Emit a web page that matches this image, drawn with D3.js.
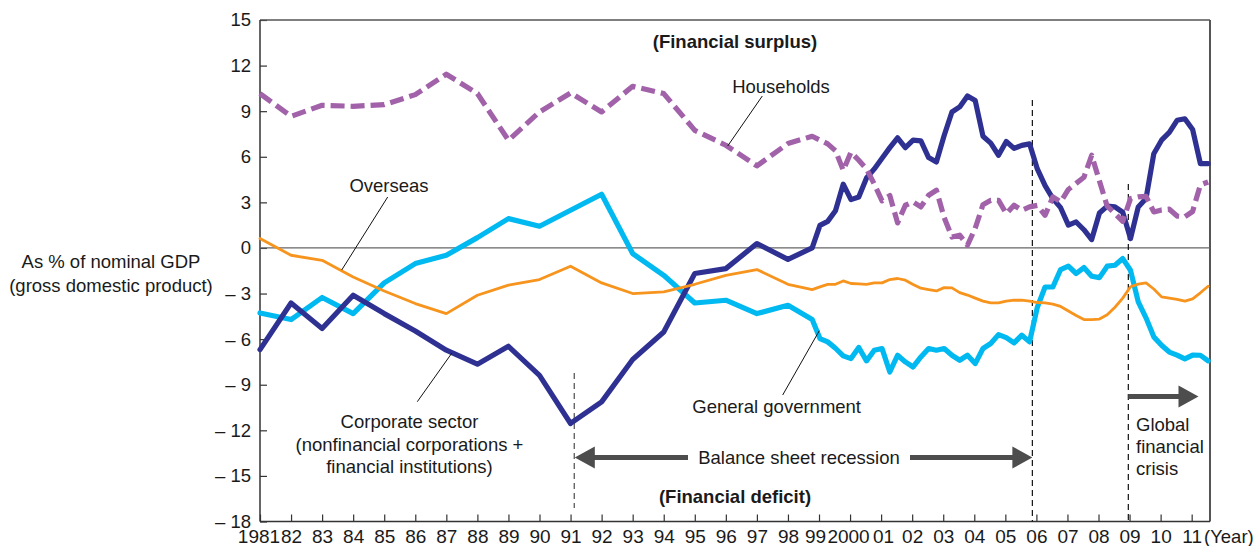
<!DOCTYPE html>
<html><head><meta charset="utf-8">
<script src="https://cdn.jsdelivr.net/npm/d3@7/dist/d3.min.js"></script>
<style>
body{margin:0;background:#fff}
svg{display:block}
text{font-family:"Liberation Sans",Arial,Helvetica,sans-serif;fill:#1a1a1a}
</style>
</head><body>
<svg id="chart" width="1255" height="546"></svg>
<script>
// ---------- DATA ----------
const annualYears = [1981,1982,1983,1984,1985,1986,1987,1988,1989,1990,1991,1992,1993,1994,1995,1996,1997,1998];
// quarterly observations (4-quarter averages), from 1998 Q4 to 2011 Q3
const quarterStart = 1998.78;
const quarterStep = 0.25;

const corporateAnnual = [-6.69,-3.62,-5.3,-3.11,-4.32,-5.46,-6.73,-7.65,-6.47,-8.38,-11.55,-10.13,-7.34,-5.53,-1.68,-1.36,0.29,-0.75];
const corporateQuarterly = [0.0,1.49,1.75,2.45,4.2,3.18,3.35,4.6,5.2,5.9,6.6,7.25,6.6,7.09,7.05,5.95,5.66,7.4,8.95,9.28,10.0,9.7,7.35,6.9,6.1,7.0,6.55,6.75,6.85,5.2,4.1,3.25,2.65,1.5,1.71,1.2,0.55,2.3,2.75,2.7,2.35,0.62,2.7,3.25,6.2,7.09,7.6,8.4,8.5,7.8,5.55,5.55];

const householdsAnnual = [10.16,8.66,9.39,9.32,9.43,10.09,11.43,10.16,7.09,8.95,10.2,8.95,10.64,10.16,7.74,6.76,5.4,6.87];
const householdsQuarterly = [7.35,7.1,6.85,6.4,5.11,6.3,5.77,5.2,4.2,3.1,3.45,1.65,2.81,3.03,2.7,3.47,3.8,2.0,0.72,0.84,0.18,1.3,2.85,3.14,3.14,2.26,2.81,2.48,2.7,2.8,2.15,3.36,3.03,3.85,4.25,4.65,6.1,4.4,2.75,2.26,1.75,3.25,3.36,3.4,2.37,2.5,2.55,2.1,2.05,2.4,4.15,4.34];

const governmentAnnual = [-4.28,-4.71,-3.26,-4.32,-2.3,-1.03,-0.48,0.68,1.93,1.43,2.48,3.53,-0.37,-1.8,-3.62,-3.44,-4.32,-3.77];
const governmentQuarterly = [-4.71,-5.96,-6.18,-6.6,-7.1,-7.28,-6.55,-7.43,-6.73,-6.62,-8.16,-7.06,-7.5,-7.83,-7.17,-6.62,-6.73,-6.62,-7.06,-7.39,-7.06,-7.61,-6.62,-6.29,-5.7,-5.9,-6.25,-5.74,-6.18,-3.9,-2.57,-2.57,-1.42,-1.2,-1.68,-1.29,-1.86,-1.95,-1.2,-1.14,-0.7,-1.47,-3.55,-4.6,-5.85,-6.4,-6.85,-7.05,-7.3,-7.05,-7.06,-7.43];

const overseasAnnual = [0.62,-0.48,-0.81,-1.91,-2.83,-3.66,-4.32,-3.11,-2.45,-2.08,-1.2,-2.3,-3.0,-2.89,-2.39,-1.8,-1.42,-2.39];
const overseasQuarterly = [-2.74,-2.56,-2.4,-2.39,-2.17,-2.34,-2.36,-2.39,-2.3,-2.3,-2.08,-2.01,-2.12,-2.4,-2.65,-2.74,-2.83,-2.61,-2.63,-2.94,-3.1,-3.3,-3.5,-3.62,-3.62,-3.5,-3.44,-3.44,-3.5,-3.59,-3.62,-3.7,-3.85,-4.15,-4.45,-4.71,-4.71,-4.68,-4.4,-3.9,-3.3,-2.55,-2.38,-2.3,-2.7,-3.22,-3.3,-3.38,-3.5,-3.35,-2.95,-2.52];

const yTicks = [15,12,9,6,3,0,-3,-6,-9,-12,-15,-18];
const xTicks = [1981,1982,1983,1984,1985,1986,1987,1988,1989,1990,1991,1992,1993,1994,1995,1996,1997,1998,1999,2000,2001,2002,2003,2004,2005,2006,2007,2008,2009,2010,2011];
const eventYears = [1991.12, 2005.87, 2008.96]; // recession start, end, global financial crisis

// ---------- LAYOUT ----------
const svg = d3.select("#chart");
const L = 260, R = 1210, T = 20, B = 521.5;
const x = d3.scaleLinear().domain([1981, 2011.59]).range([L, R]);
const y = d3.scaleLinear().domain([-18, 15]).range([B, T]);

function build(annual, quarterly){
  const pts = annual.map((v,i)=>({t: annualYears[i], v}));
  quarterly.forEach((v,i)=>pts.push({t: quarterStart + i*quarterStep, v}));
  return pts;
}
const line = d3.line().x(d=>x(d.t)).y(d=>y(d.v));

// axes
const yAxis = d3.axisLeft(y).tickValues(yTicks).tickSize(-7).tickPadding(9)
  .tickFormat(d => d < 0 ? "\u2013 " + Math.abs(d) : String(d));
const gy = svg.append("g").attr("transform",`translate(${L},0)`).call(yAxis);
gy.select(".domain").remove();
gy.selectAll(".tick line").attr("stroke","#333").attr("stroke-width",1.2);
gy.selectAll(".tick text").attr("font-size","18.5px").attr("fill","#1a1a1a");

const labelShift = {1981:-1.5, 1999:-4, 2000:-2, 2001:2};
const xAxis = d3.axisBottom(x).tickValues(xTicks).tickSize(-7).tickPadding(8)
  .tickFormat(d => (d===1981||d===2000) ? String(d) : String(d).slice(2));
const gx = svg.append("g").attr("transform",`translate(0,${B})`).call(xAxis);
gx.select(".domain").remove();
gx.selectAll(".tick line").attr("stroke","#333").attr("stroke-width",1.2);
gx.selectAll(".tick text").attr("font-size","19px").attr("fill","#1a1a1a")
  .attr("dx", d => labelShift[d] || 0);

svg.append("text").attr("x",1204).attr("y",542.5).attr("font-size","18.5px").text("(Year)");

// frame
svg.append("line").attr("x1",L).attr("x2",R).attr("y1",T).attr("y2",T).attr("stroke","#555").attr("stroke-width",1.5);
svg.append("line").attr("x1",R).attr("x2",R).attr("y1",T).attr("y2",B).attr("stroke","#555").attr("stroke-width",2);
svg.append("line").attr("x1",L).attr("x2",L).attr("y1",T).attr("y2",B).attr("stroke","#333").attr("stroke-width",1.5);
svg.append("line").attr("x1",L).attr("x2",R).attr("y1",B).attr("y2",B).attr("stroke","#333").attr("stroke-width",1.5);
// zero line
svg.append("line").attr("x1",L).attr("x2",R).attr("y1",y(0)).attr("y2",y(0)).attr("stroke","#666").attr("stroke-width",1.3);

// event dashed lines
svg.append("line").attr("x1",x(eventYears[0])).attr("x2",x(eventYears[0])).attr("y1",373).attr("y2",508)
  .attr("stroke","#666").attr("stroke-width",1.4).attr("stroke-dasharray","6,4");
svg.append("line").attr("x1",x(eventYears[1])).attr("x2",x(eventYears[1])).attr("y1",100).attr("y2",B)
  .attr("stroke","#111").attr("stroke-width",1.2).attr("stroke-dasharray","6,4");
svg.append("line").attr("x1",x(eventYears[2])).attr("x2",x(eventYears[2])).attr("y1",184).attr("y2",B)
  .attr("stroke","#111").attr("stroke-width",1.2).attr("stroke-dasharray","6,4");

// series
const series = [
  {name:"government", data: build(governmentAnnual, governmentQuarterly), color:"#00b9f1", w:5.2, dash:null},
  {name:"corporate", data: build(corporateAnnual, corporateQuarterly), color:"#2e3192", w:5.2, dash:null},
  {name:"households", data: build(householdsAnnual, householdsQuarterly), color:"#a262a9", w:5.2, dash:"14,6"},
  {name:"overseas", data: build(overseasAnnual, overseasQuarterly), color:"#f7941d", w:2.8, dash:null}
];
series.forEach(s=>{
  svg.append("path").datum(s.data).attr("d",line).attr("fill","none")
    .attr("stroke",s.color).attr("stroke-width",s.w)
    .attr("stroke-linejoin","round").attr("stroke-linecap", s.dash ? "butt" : "round")
    .attr("stroke-dasharray", s.dash);
});

// arrows
const arrowColor = "#4d4d4d";
function arrowHead(tipX, yy, dir){ // dir: -1 left, +1 right
  const len = 20, half = 11;
  svg.append("path")
    .attr("d",`M${tipX},${yy} L${tipX - dir*len},${yy-half} L${tipX - dir*len},${yy+half} Z`)
    .attr("fill",arrowColor);
}
const bsY = 457.5;
const bsL = x(eventYears[0]) + 0.5, bsR = x(eventYears[1]);
svg.append("line").attr("x1",bsL+15).attr("x2",688).attr("y1",bsY).attr("y2",bsY).attr("stroke",arrowColor).attr("stroke-width",5);
svg.append("line").attr("x1",910).attr("x2",bsR-15).attr("y1",bsY).attr("y2",bsY).attr("stroke",arrowColor).attr("stroke-width",5);
arrowHead(bsL, bsY, -1);
arrowHead(bsR, bsY, 1);
svg.append("text").attr("x",799).attr("y",bsY).attr("dy","0.35em").attr("text-anchor","middle").attr("font-size","18.5px").text("Balance sheet recession");

const gfY = 396.5;
svg.append("line").attr("x1",x(eventYears[2])).attr("x2",1185).attr("y1",gfY).attr("y2",gfY).attr("stroke",arrowColor).attr("stroke-width",5);
arrowHead(1198.5, gfY, 1);

// texts
function txt(xx, yy, s, opts={}){
  const t = svg.append("text").attr("x",xx).attr("y",yy).attr("font-size", opts.size||"18.5px")
    .attr("text-anchor", opts.anchor||"middle").text(s);
  if(opts.bold) t.attr("font-weight","bold");
  return t;
}
txt(735, 47.5, "(Financial surplus)", {bold:true});
txt(735, 502.5, "(Financial deficit)", {bold:true});
txt(781, 92.5, "Households");
txt(389, 191.5, "Overseas");
txt(409.5, 428.3, "Corporate sector");
txt(409.5, 450.5, "(nonfinancial corporations +");
txt(409.5, 472.5, "financial institutions)");
txt(776.7, 413.3, "General government");
txt(1136, 430.7, "Global", {anchor:"start"});
txt(1136, 453, "financial", {anchor:"start"});
txt(1136, 475.3, "crisis", {anchor:"start"});
txt(111, 267.5, "As % of nominal GDP");
txt(111, 291.5, "(gross domestic product)");

// leader lines
const leaders = [
  [762.3,96,727.7,146],
  [387.7,197,341.7,270],
  [417.3,401.7,451.7,353.3],
  [782.7,395,819.3,330.7]
];
leaders.forEach(l=>svg.append("line").attr("x1",l[0]).attr("y1",l[1]).attr("x2",l[2]).attr("y2",l[3]).attr("stroke","#111").attr("stroke-width",1));
</script>
</body></html>
